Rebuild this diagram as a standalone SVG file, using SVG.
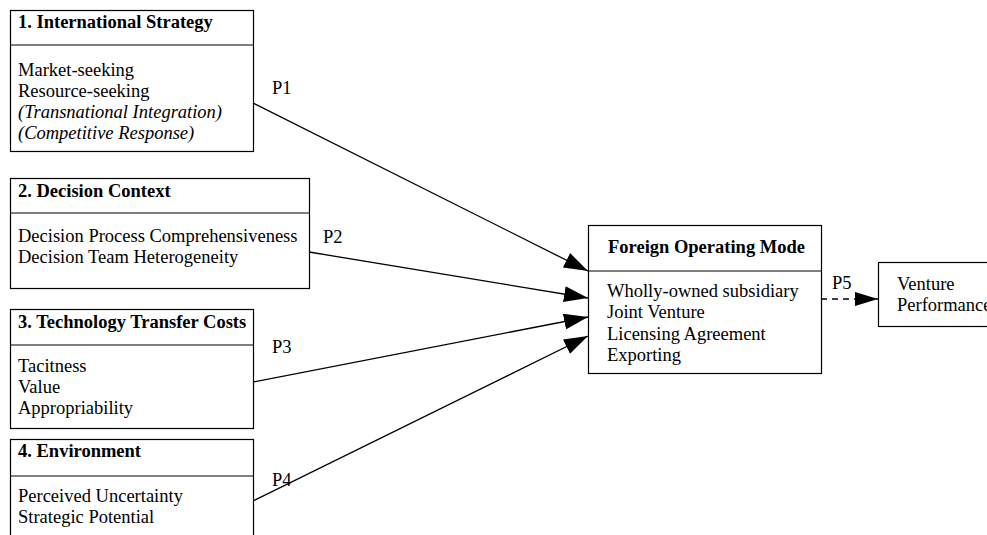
<svg xmlns="http://www.w3.org/2000/svg" width="987" height="535" viewBox="0 0 987 535">
<defs>
<style>
.box{fill:#fff;stroke:#000;stroke-width:1.2}
.div{stroke:#000;stroke-width:1.2}
text{font-family:"Liberation Serif","Times New Roman",serif;font-size:18.5px;fill:#000}
.t{font-weight:bold}
.i{font-style:italic}
.edge{stroke:#000;stroke-width:1.3;fill:none}
.dash{stroke-dasharray:6,5}
</style>
<marker id="ah" markerUnits="userSpaceOnUse" markerWidth="26" markerHeight="16" refX="24" refY="8" orient="auto">
<path d="M0,0 L24,8 L0,16 Z" fill="#000"/>
</marker>
<marker id="ah2" markerUnits="userSpaceOnUse" markerWidth="25" markerHeight="14" refX="23" refY="7" orient="auto">
<path d="M0,0 L23,7 L0,14 Z" fill="#000"/>
</marker>
</defs>
<rect width="987" height="535" fill="#fff"/>
<g id="connectors">
<line class="edge" x1="253" y1="103" x2="588" y2="271" marker-end="url(#ah)"/>
<line class="edge" x1="309" y1="252" x2="588" y2="298" marker-end="url(#ah)"/>
<line class="edge" x1="253" y1="382" x2="588" y2="317" marker-end="url(#ah)"/>
<line class="edge" x1="253" y1="501" x2="588" y2="336" marker-end="url(#ah)"/>
<line class="edge dash" x1="821" y1="299" x2="878" y2="299" marker-end="url(#ah2)"/>
<text x="272" y="94">P1</text>
<text x="323" y="243">P2</text>
<text x="272" y="353">P3</text>
<text x="272" y="486">P4</text>
<text x="832" y="289">P5</text>
</g>
<g id="n1">
<rect class="box" x="10.5" y="10.5" width="243" height="141"/>
<line class="div" x1="10.5" y1="45" x2="253.5" y2="45"/>
<text class="t" x="18" y="28">1. International Strategy</text>
<text x="18" y="76">Market-seeking</text>
<text x="18" y="97">Resource-seeking</text>
<text class="i" x="18" y="118">(Transnational Integration)</text>
<text class="i" x="18" y="139">(Competitive Response)</text>
</g>
<g id="n2">
<rect class="box" x="10.5" y="178.5" width="299" height="110"/>
<line class="div" x1="10.5" y1="213" x2="309.5" y2="213"/>
<text class="t" x="18" y="197">2. Decision Context</text>
<text x="18" y="242">Decision Process Comprehensiveness</text>
<text x="18" y="263">Decision Team Heterogeneity</text>
</g>
<g id="n3">
<rect class="box" x="10.5" y="309.5" width="243" height="119"/>
<line class="div" x1="10.5" y1="345" x2="253.5" y2="345"/>
<text class="t" x="18" y="328">3. Technology Transfer Costs</text>
<text x="18" y="372">Tacitness</text>
<text x="18" y="393">Value</text>
<text x="18" y="414">Appropriability</text>
</g>
<g id="n4">
<rect class="box" x="10.5" y="439.5" width="243" height="110"/>
<line class="div" x1="10.5" y1="476" x2="253.5" y2="476"/>
<text class="t" x="18" y="457">4. Environment</text>
<text x="18" y="502">Perceived Uncertainty</text>
<text x="18" y="523">Strategic Potential</text>
</g>
<g id="fom">
<rect class="box" x="588.5" y="225.5" width="233" height="148"/>
<line class="div" x1="588.5" y1="271" x2="821.5" y2="271"/>
<text class="t" x="608" y="253">Foreign Operating Mode</text>
<text x="607" y="297">Wholly-owned subsidiary</text>
<text x="607" y="318">Joint Venture</text>
<text x="607" y="340">Licensing Agreement</text>
<text x="607" y="361">Exporting</text>
</g>
<g id="vp">
<rect class="box" x="878.5" y="262.5" width="130" height="64"/>
<text x="897" y="290">Venture</text>
<text x="897" y="311">Performance</text>
</g>
</svg>
